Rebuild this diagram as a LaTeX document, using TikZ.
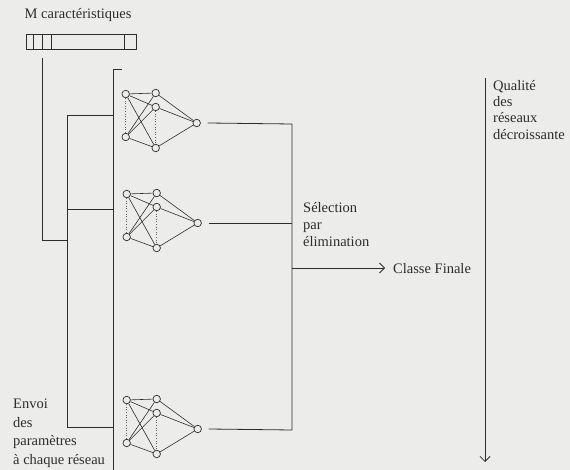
\documentclass[tikz,border=0pt]{standalone}
\usepackage{fontspec}
\setmainfont{Liberation Serif}
\usetikzlibrary{arrows.meta,calc}
\definecolor{paper}{RGB}{236,236,234}
\definecolor{ink}{RGB}{45,45,45}
\tikzset{
  neuron/.style={circle,draw=ink,fill=paper,line width=0.7pt,minimum size=7.5pt,inner sep=0pt},
  wire/.style={draw=ink,line width=0.8pt},
  link/.style={draw=ink,line width=0.6pt},
  dotlink/.style={draw=ink!75,line width=0.6pt,dotted},
  lbl/.style={font=\fontsize{14.5}{17}\selectfont,inner sep=0pt,anchor=base west,text=ink},
  vtip/.style={-{Straight Barb[length=5pt,width=10pt,line width=0.8pt]}},
}
\newcommand\drawnet[3]{%
  \node[neuron] (#1i1) at (#2,#3) {};
  \node[neuron] (#1i2) at (#2,#3+43) {};
  \node[neuron] (#1h1) at (#2+30,#3-1) {};
  \node[neuron] (#1h2) at (#2+30,#3+13) {};
  \node[neuron] (#1h3) at (#2+30,#3+54) {};
  \node[neuron] (#1o)  at (#2+71,#3+29) {};
  \foreach \a in {i1,i2}{\foreach \b in {h1,h2,h3}{\draw[link] (#1\a) -- (#1\b);}}
  \foreach \b in {h1,h2,h3}{\draw[link] (#1\b) -- (#1o);}
  \draw[dotlink] (#1i1) -- (#1i2);
  \draw[dotlink] (#1h2) -- (#1h3);
  \coordinate (#1s) at ($(#1o)+(11,0)$);
}
\begin{document}
\begin{tikzpicture}[x=1pt,y=-1pt]
\useasboundingbox (0,0) rectangle (570,470);
\fill[paper] (0,0) rectangle (570,470);

% characteristic vector
\node[lbl] (title) at (24.5,19) {M caractéristiques};
\node[draw=ink,line width=0.8pt,minimum width=110.5pt,minimum height=15pt,inner sep=0pt,anchor=north west] (vec) at (25.5,34) {};
\foreach \dx in {7.8,17,26,98.7}{\draw[wire] ($(vec.north west)+(\dx,0)$) -- ($(vec.south west)+(\dx,0)$);}

% networks
\drawnet{a}{125.7}{94}
\drawnet{b}{126.7}{194}
\drawnet{c}{126.7}{400}

% left distribution lines
\coordinate (la) at (42,58);
\coordinate (lb) at (42,240);
\coordinate (lc) at (67,240);
\coordinate (ld) at (67,115);
\coordinate (le) at (67,427);
\coordinate (lf) at (67,209);
\coordinate (bt) at (113,69);
\coordinate (btick) at (122,69);
\coordinate (bb) at (113,470);
\draw[wire] (la) -- (lb) -- (lc);
\draw[wire] (ld) -- (le);
\draw[wire] (ld) -- (ld -| bt);
\draw[wire] (lf) -- (lf -| bt);
\draw[wire] (le) -- (le -| bt);
\draw[wire] (btick) -- (bt) -- (bb);

% right collection lines
\coordinate (rtop) at (292,124);
\coordinate (rbot) at (292,430);
\coordinate (rmid) at (292,268);
\coordinate (cftip) at (385,268);
\draw[wire] (as) -- (rtop) -- (rbot);
\draw[wire] (bs) -- (bs -| rtop);
\draw[wire] (cs) -- (rbot);
\draw[wire,vtip] (rmid) -- (cftip);
\node[lbl] (cf) at (393,273) {Classe Finale};

\node[lbl] (s1) at (303,213) {Sélection};
\node[lbl] (s2) at (303,230) {par};
\node[lbl] (s3) at (303,247) {élimination};

\node[lbl] (e1) at (13,408) {Envoi};
\node[lbl] (e2) at (13,427) {des};
\node[lbl] (e3) at (13,445) {paramètres};
\node[lbl] (e4) at (13,464) {à chaque réseau};

% quality arrow
\coordinate (qtop) at (485,78);
\coordinate (qtip) at (485,462);
\draw[wire,vtip] (qtop) -- (qtip);
\node[lbl] (q1) at (493,91) {Qualité};
\node[lbl] (q2) at (493,107) {des};
\node[lbl] (q3) at (493,123) {réseaux};
\node[lbl] (q4) at (493,140) {décroissante};
\end{tikzpicture}
\end{document}
